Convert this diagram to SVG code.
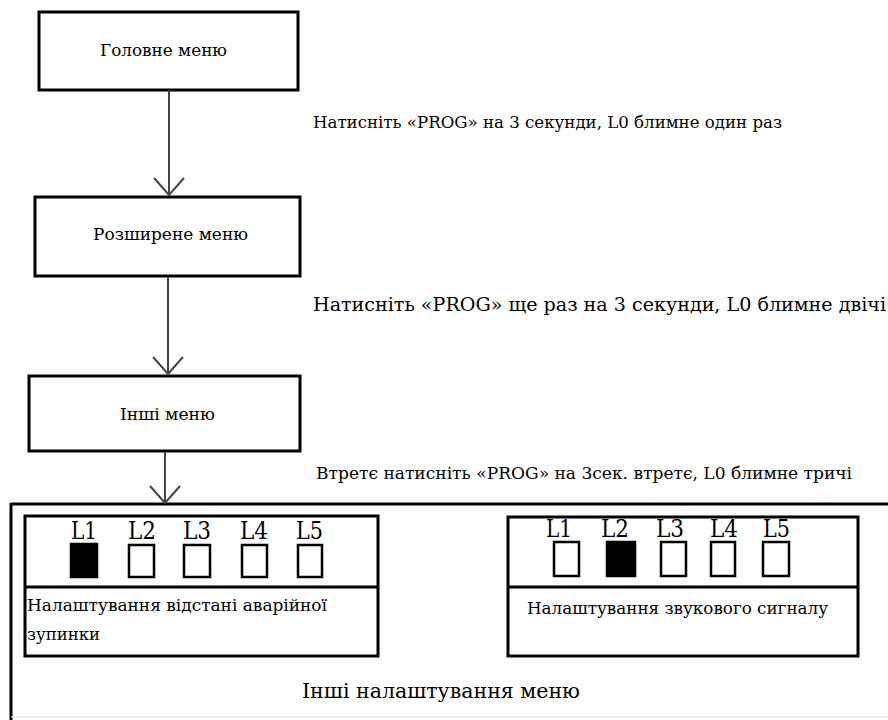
<svg xmlns="http://www.w3.org/2000/svg" width="888" height="720" viewBox="0 0 888 720">
<style>
.t{font-family:"DejaVu Serif","Liberation Serif",serif;font-stretch:condensed;fill:#000}
.box{fill:#fff;stroke:#000;stroke-width:3}
.led{fill:#fff;stroke:#000;stroke-width:2.5}
.on{fill:#000;stroke:#000;stroke-width:2.5}
.conn{stroke:#444;stroke-width:2;fill:none}
</style>
<rect width="888" height="720" fill="#fff"/>
<g id="outer">
<line x1="11" y1="504" x2="888" y2="504" stroke="#000" stroke-width="3"/>
<line x1="11" y1="503" x2="11" y2="720" stroke="#000" stroke-width="3"/>
<line x1="11" y1="717" x2="888" y2="717" stroke="#ddd" stroke-width="1"/>
<text class="t" x="302" y="698" font-size="20.5" textLength="278" lengthAdjust="spacingAndGlyphs">Інші налаштування меню</text>
</g>
<g id="main-menu">
<rect class="box" x="39" y="12" width="259" height="78"/>
<text class="t" x="100" y="56" font-size="16.5" textLength="127" lengthAdjust="spacingAndGlyphs">Головне меню</text>
</g>
<g id="ext-menu">
<rect class="box" x="35" y="197" width="265" height="79"/>
<text class="t" x="93" y="240" font-size="16.5" textLength="155" lengthAdjust="spacingAndGlyphs">Розширене меню</text>
</g>
<g id="other-menu">
<rect class="box" x="29" y="376" width="271" height="75"/>
<text class="t" x="120" y="420" font-size="16.5" textLength="95" lengthAdjust="spacingAndGlyphs">Інші меню</text>
</g>
<g id="stop-dist">
<rect class="box" x="25" y="516" width="353" height="140"/>
<line x1="25" y1="587" x2="378" y2="587" stroke="#000" stroke-width="3"/>
<text class="t" x="71" y="539" font-size="24" textLength="26" lengthAdjust="spacingAndGlyphs">L1</text>
<text class="t" x="128" y="539" font-size="24" textLength="28" lengthAdjust="spacingAndGlyphs">L2</text>
<text class="t" x="183" y="539" font-size="24" textLength="28" lengthAdjust="spacingAndGlyphs">L3</text>
<text class="t" x="240" y="539" font-size="24" textLength="28" lengthAdjust="spacingAndGlyphs">L4</text>
<text class="t" x="296" y="539" font-size="24" textLength="27" lengthAdjust="spacingAndGlyphs">L5</text>
<rect class="on" x="71" y="544" width="26" height="33"/>
<rect class="led" x="129" y="545" width="25" height="32"/>
<rect class="led" x="184" y="545" width="26" height="32"/>
<rect class="led" x="242" y="545" width="25" height="32"/>
<rect class="led" x="298" y="545" width="24" height="32"/>
<text class="t" x="27" y="611" font-size="17.5" textLength="300" lengthAdjust="spacingAndGlyphs">Налаштування відстані аварійної</text>
<text class="t" x="27" y="640" font-size="17.5" textLength="73" lengthAdjust="spacingAndGlyphs">зупинки</text>
</g>
<g id="beep">
<rect class="box" x="508" y="517" width="350" height="139"/>
<line x1="508" y1="587" x2="858" y2="587" stroke="#000" stroke-width="3"/>
<text class="t" x="546" y="537" font-size="24" textLength="26" lengthAdjust="spacingAndGlyphs">L1</text>
<text class="t" x="601" y="537" font-size="24" textLength="28" lengthAdjust="spacingAndGlyphs">L2</text>
<text class="t" x="656" y="537" font-size="24" textLength="28" lengthAdjust="spacingAndGlyphs">L3</text>
<text class="t" x="710" y="537" font-size="24" textLength="28" lengthAdjust="spacingAndGlyphs">L4</text>
<text class="t" x="763" y="537" font-size="24" textLength="27" lengthAdjust="spacingAndGlyphs">L5</text>
<rect class="led" x="554" y="542" width="25" height="34"/>
<rect class="on" x="607" y="542" width="28" height="34"/>
<rect class="led" x="661" y="542" width="25" height="34"/>
<rect class="led" x="711" y="542" width="24" height="34"/>
<rect class="led" x="763" y="542" width="26" height="34"/>
<text class="t" x="527" y="614" font-size="17.5" textLength="301" lengthAdjust="spacingAndGlyphs">Налаштування звукового сигналу</text>
</g>
<g id="connectors">
<line class="conn" x1="169" y1="90" x2="169" y2="195"/>
<polyline class="conn" points="154,178 169,195 184,178"/>
<line class="conn" x1="168" y1="277" x2="168" y2="374"/>
<polyline class="conn" points="153,357 168,374 183,357"/>
<line class="conn" x1="165" y1="452" x2="165" y2="503"/>
<polyline class="conn" points="150,486 165,503 180,486"/>
<text class="t" x="313" y="128" font-size="16.5" textLength="469" lengthAdjust="spacingAndGlyphs">Натисніть «PROG» на 3 секунди, L0 блимне один раз</text>
<text class="t" x="313" y="311" font-size="18.5" textLength="573" lengthAdjust="spacingAndGlyphs">Натисніть «PROG» ще раз на 3 секунди, L0 блимне двічі</text>
<text class="t" x="316" y="479" font-size="16" textLength="536" lengthAdjust="spacingAndGlyphs">Втретє натисніть «PROG» на 3сек. втретє, L0 блимне тричі</text>
</g>
</svg>
